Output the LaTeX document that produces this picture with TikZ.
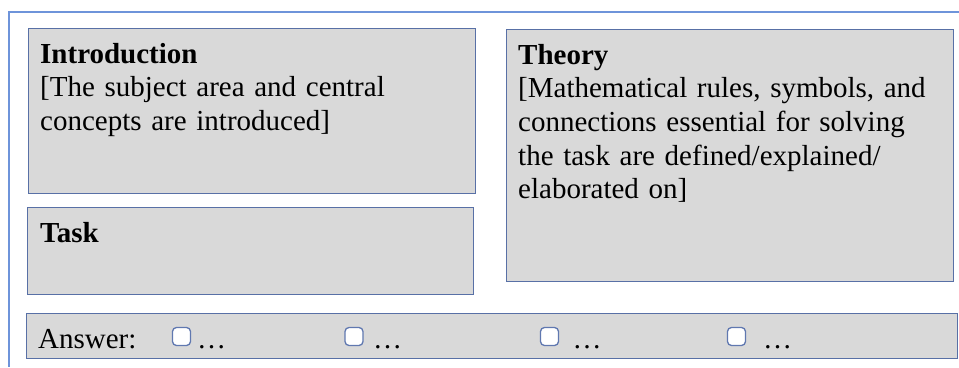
\documentclass[tikz,border=0pt]{standalone}
\usepackage{fontspec}
\setmainfont{Liberation Serif}
\definecolor{boxfill}{RGB}{217,217,217}
\definecolor{boxline}{RGB}{88,112,166}
\definecolor{frameline}{RGB}{110,148,218}
\definecolor{chkline}{RGB}{96,120,176}
\tikzset{
  panel/.style={draw=boxline, fill=boxfill, line width=1.3pt, anchor=north west, inner sep=0pt},
  paneltext/.style={anchor=base west, inner sep=0pt, align=left, text width=430pt,
    font=\fontsize{29}{33.7}\selectfont},
  answertext/.style={anchor=base west, inner sep=0pt, font=\fontsize{29}{33.7}\selectfont},
  chkbox/.style={draw=chkline, fill=white, line width=1.3pt, rounded corners=4pt,
    minimum width=18pt, minimum height=18pt, inner sep=0pt},
  frame/.style={draw=frameline, line width=1.3pt}
}
\begin{document}
\begin{tikzpicture}[x=1pt,y=-1pt]
\useasboundingbox (0,0) rectangle (959,367);
% outer frame lines
\draw[frame] (959,12) -- (9,12) -- (9,367);
% panels
\node[panel, minimum width=447pt, minimum height=165pt] (intro) at (28,28) {};
\node[panel, minimum width=446pt, minimum height=87pt] (task) at (27,207) {};
\node[panel, minimum width=447pt, minimum height=252pt] (theory) at (506,29) {};
\node[panel, minimum width=931pt, minimum height=45pt] (answer) at (26,313) {};
% texts
\node[paneltext] (introtxt) at (40,63) {\textbf{Introduction}\\ {[}The subject area and central\\ concepts are introduced]};
\node[paneltext] (tasktxt) at (40,242) {\textbf{Task}};
\node[paneltext] (theorytxt) at (518,64) {\textbf{Theory}\\ {[}Mathematical rules, symbols, and\\ connections essential for solving\\ the task are defined/explained/\\ elaborated on]};
% answer row
\node[answertext] (anslabel) at (38,348) {Answer:};
\node[chkbox] (c1) at (181.5,336.5) {};
\node[chkbox] (c2) at (354,336.5) {};
\node[chkbox] (c3) at (549.5,336.5) {};
\node[chkbox] (c4) at (736.5,336.5) {};
\node[answertext] (d1) at (197,348) {…};
\node[answertext] (d2) at (373,348) {…};
\node[answertext] (d3) at (572.5,348) {…};
\node[answertext] (d4) at (763,348) {…};
\end{tikzpicture}
\end{document}
